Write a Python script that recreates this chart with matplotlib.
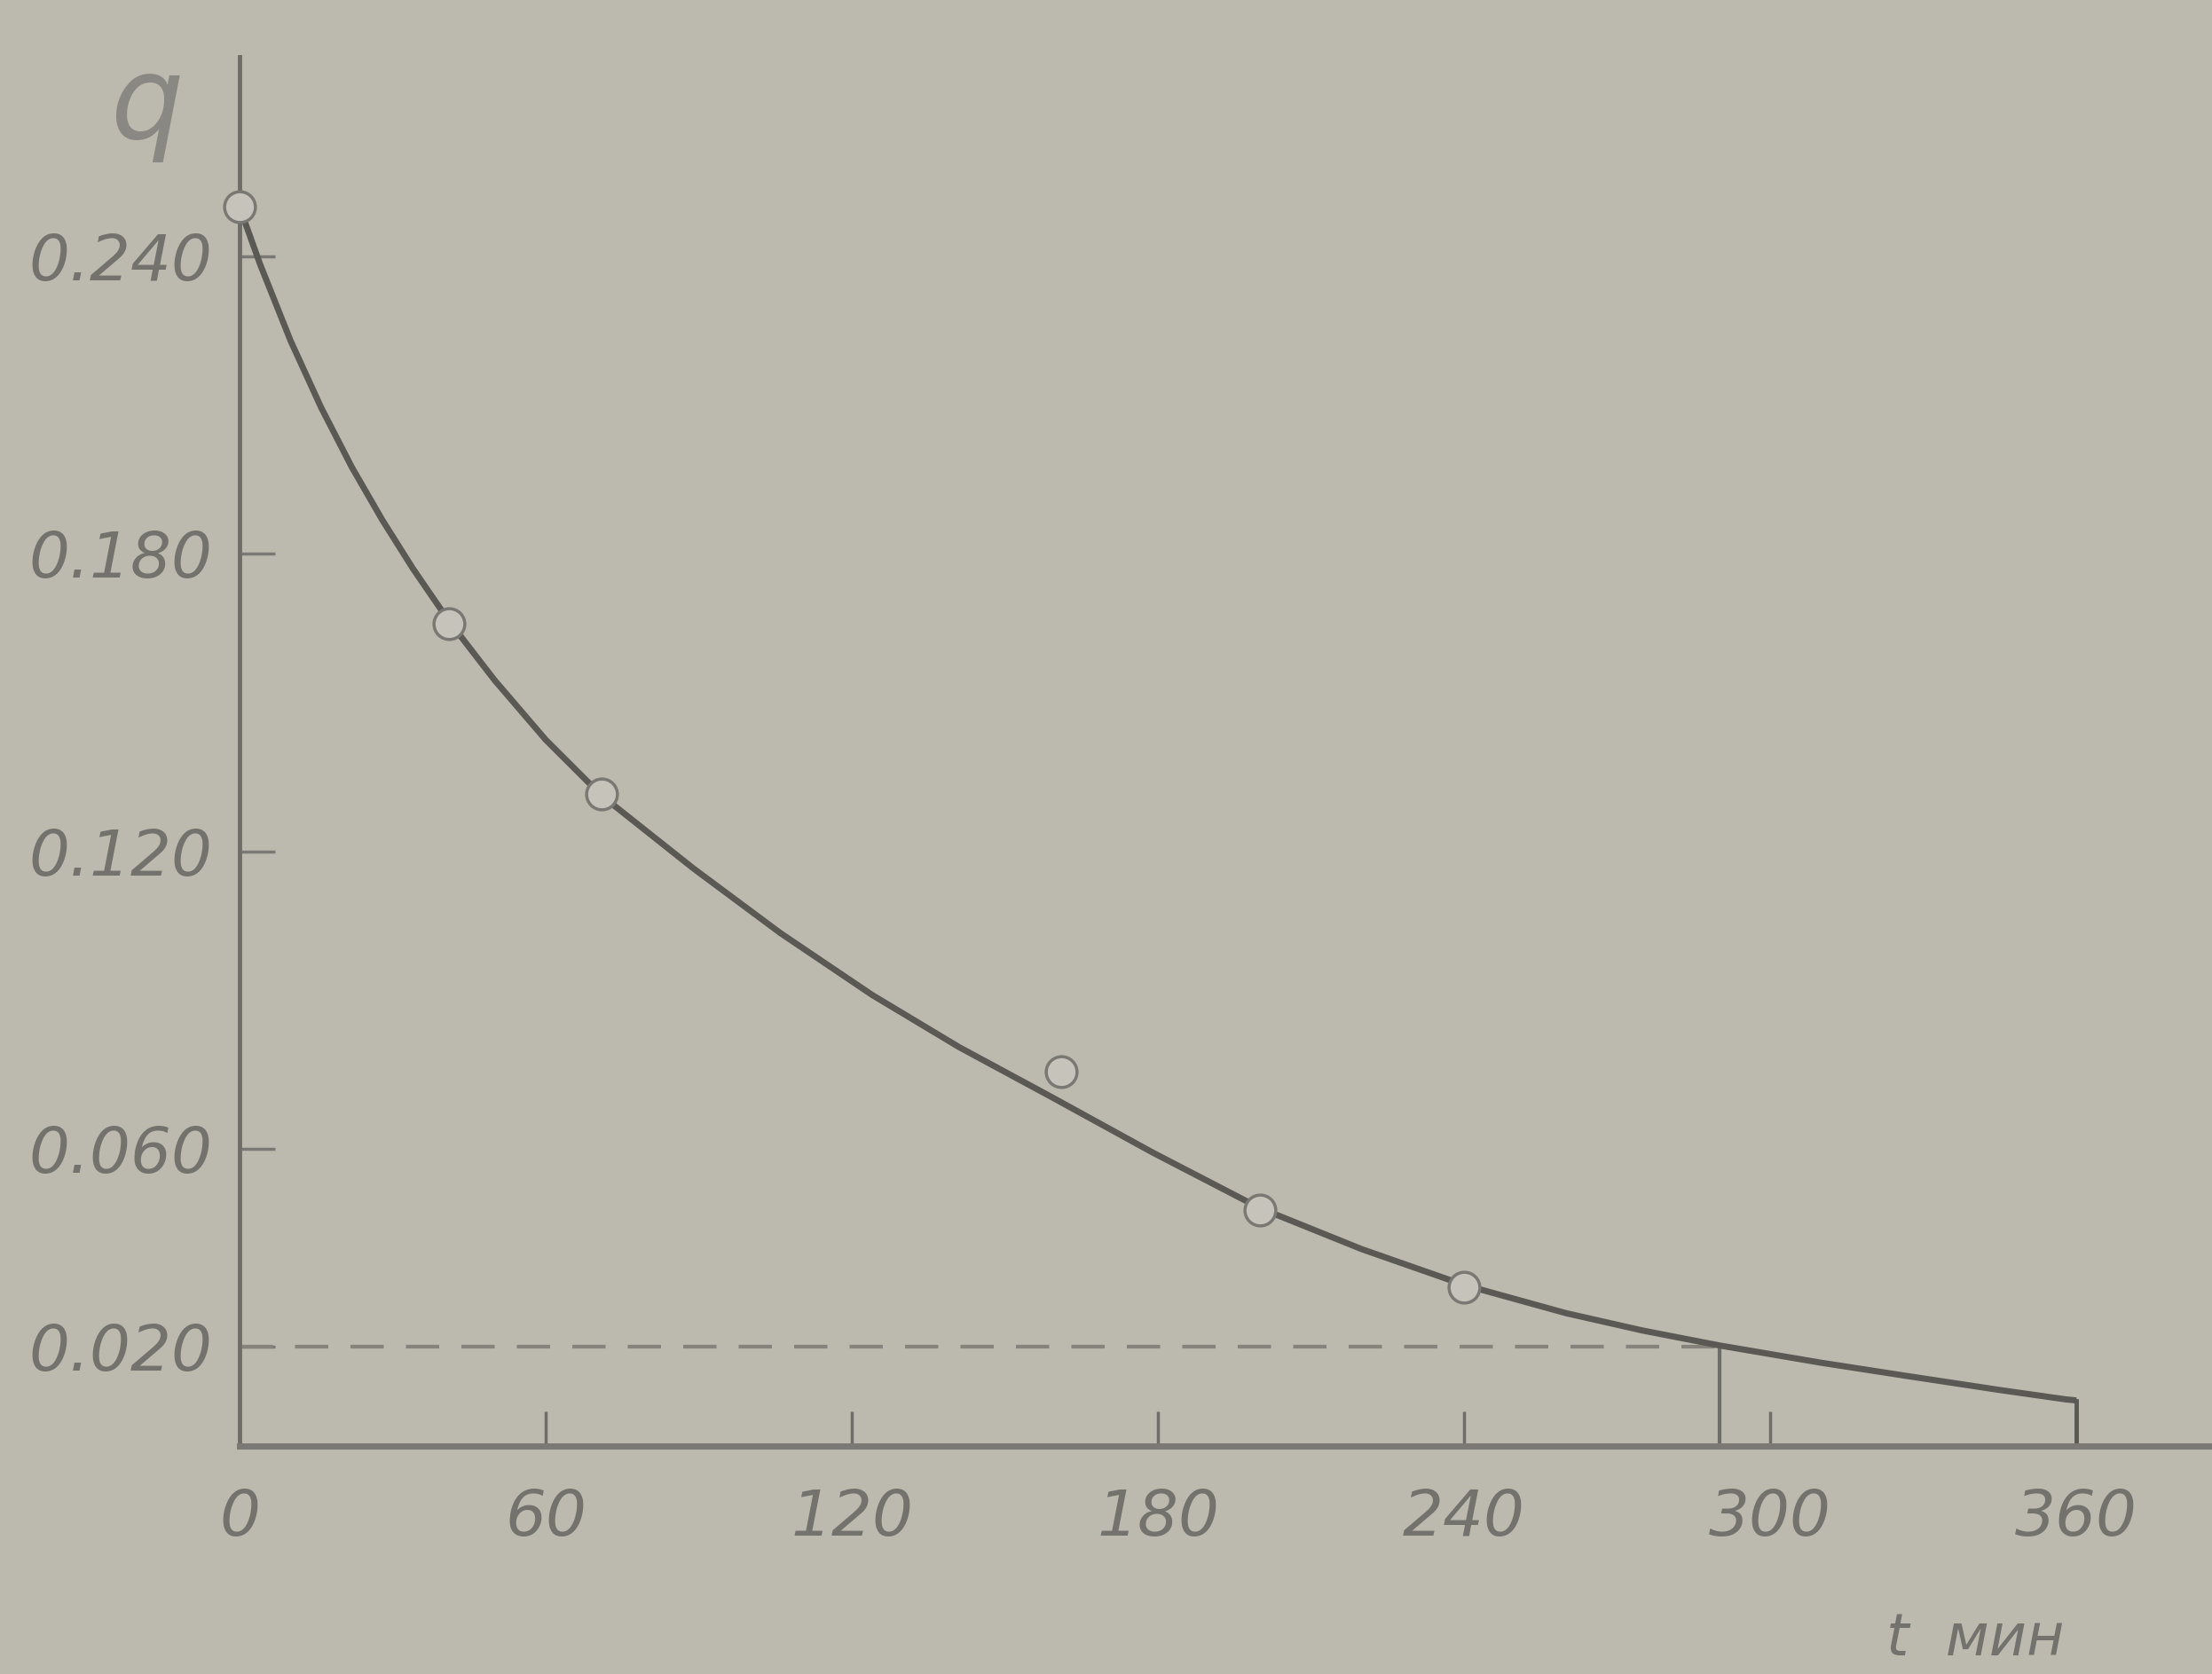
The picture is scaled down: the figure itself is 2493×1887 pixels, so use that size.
import matplotlib
matplotlib.use("Agg")
import matplotlib.pyplot as plt
from matplotlib import font_manager

# measured points (open circles)
t_points = [0, 41, 71, 161, 200, 240]
q_points = [0.250, 0.166, 0.1315, 0.0755, 0.0476, 0.032]

# smooth curve
t_curve = [0, 4, 10, 16, 22, 28, 34, 41, 50, 60, 71, 89, 106, 124, 141,
           159, 179, 200, 220, 240, 260, 275, 290, 310, 327, 345, 358, 360]
q_curve = [0.250, 0.2385, 0.2230, 0.2095, 0.1975, 0.1868, 0.1770, 0.1665,
           0.1545, 0.1425, 0.1312, 0.1165, 0.1035, 0.0910, 0.0805, 0.0705,
           0.0592, 0.0480, 0.0397, 0.0325, 0.0268, 0.0233, 0.0203, 0.0168,
           0.0141, 0.0113, 0.0094, 0.0092]

# level q = 0.020 and the time where the curve reaches it
q_level = 0.020
t_level = 290
t_end = 360

x_ticks = [0, 60, 120, 180, 240, 300, 360]
x_labels = ["0", "60", "120", "180", "240", "300", "360"]
y_ticks = [0.020, 0.060, 0.120, 0.180, 0.240]
y_labels = ["0.020", "0.060", "0.120", "0.180", "0.240"]

installed = {f.name for f in font_manager.fontManager.ttflist}
if "Liberation Sans Narrow" in installed:
    fam = ["Liberation Sans Narrow", "DejaVu Sans"]
    fs = 60
else:
    fam = ["DejaVu Sans"]
    fs = 52

bg = "#bcb9ae"
ink = "#5a5954"
txt = "#74726c"

W, H = 2493, 1887
fig = plt.figure(figsize=(W / 100, H / 100), dpi=100, facecolor=bg)
ax = fig.add_axes([270 / W, (H - 1630) / H, (W - 270) / W, (1630 - 64) / H])
ax.set_facecolor(bg)

ax.plot(t_curve, q_curve, color=ink, lw=5, solid_capstyle="butt",
        solid_joinstyle="round", zorder=3)
ax.plot(t_points, q_points, "o", ms=25, mfc="#c6c4ba", mec="#7a7872",
        mew=2.5, zorder=4, clip_on=False)

ax.plot([0, t_level], [q_level, q_level], color="#85837c", lw=3,
        linestyle=(0, (9, 6)), zorder=2)
ax.plot([t_level, t_level], [0, q_level], color="#6e6d67", lw=3, zorder=2)
ax.plot([t_end, t_end], [0, q_curve[-1]], color=ink, lw=3.5, zorder=2)

ax.set_xlim(0, 386.6)
ax.set_ylim(0, 0.2803)

for s in ["top", "right"]:
    ax.spines[s].set_visible(False)
ax.spines["left"].set_color("#6e6d68")
ax.spines["left"].set_linewidth(3.5)
ax.spines["bottom"].set_color("#7a7973")
ax.spines["bottom"].set_linewidth(5)

ax.set_xticks(x_ticks)
ax.set_xticklabels(x_labels)
ax.set_yticks(y_ticks)
ax.set_yticklabels(y_labels)
ax.tick_params(axis="x", direction="in", length=28, width=2.5, colors="#6e6d68",
               pad=34, labelcolor=txt, labelsize=fs)
ax.tick_params(axis="y", direction="in", length=29, width=2.5, colors="#7a7973",
               pad=22, labelcolor=txt, labelsize=fs)
for lab in ax.get_xticklabels() + ax.get_yticklabels():
    lab.set_family(fam)
    lab.set_style("italic")

fig.text(2226 / W, 1 - 1848 / H, "t  мин", family=fam, style="italic",
         fontsize=fs * 0.9, color=txt, ha="center", va="center")
fig.text(165 / W, 1 - 120 / H, "q", family=fam, style="italic",
         fontsize=fs * 1.8, color="#8a8882", ha="center", va="center")

fig.savefig("out.png", dpi=100, facecolor=bg)
